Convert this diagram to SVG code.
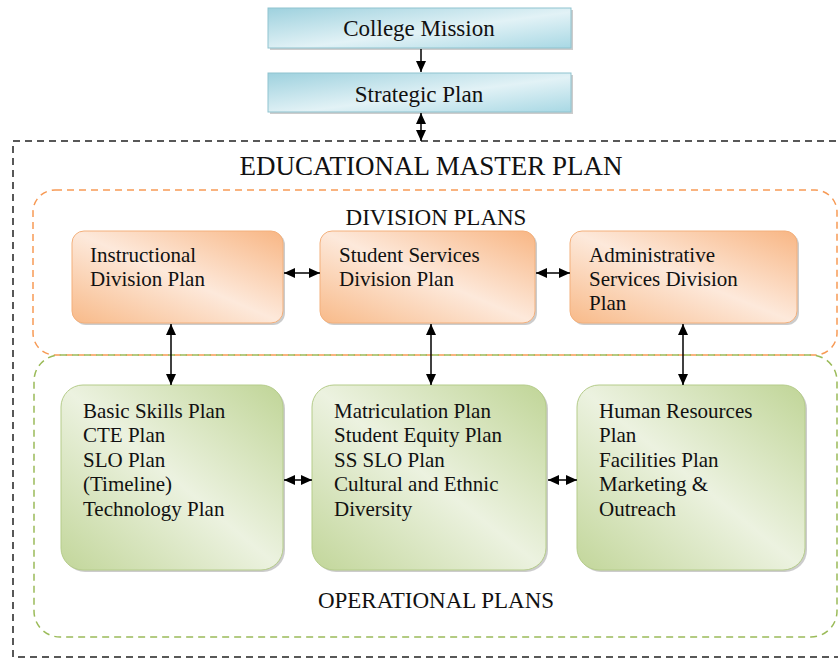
<svg xmlns="http://www.w3.org/2000/svg" width="838" height="659" viewBox="0 0 838 659" font-family="'Liberation Serif', 'Times New Roman', 'DejaVu Serif', serif">
<style>
text{fill:#111;}
.t{font-size:21px;}
.h{font-size:23px;}
.big{font-size:27px;}
.blue{fill:url(#gb);stroke:#8fc3cf;stroke-width:1;}
.org{fill:url(#go);stroke:#f3b07c;stroke-width:1;}
.grn{fill:url(#gg);stroke:#b5cc8a;stroke-width:1;}
.sh{fill:#999;opacity:0.5;}
.conn{stroke:#000;stroke-width:1.5;fill:none;}
</style>
<defs>
<linearGradient id="gb" x1="0" y1="0" x2="1" y2="1">
<stop offset="0" stop-color="#9ed1de"/><stop offset="0.55" stop-color="#e2f2f6"/><stop offset="1" stop-color="#a8d8e4"/>
</linearGradient>
<linearGradient id="go" x1="1" y1="0" x2="0" y2="1">
<stop offset="0" stop-color="#f8b684"/><stop offset="0.5" stop-color="#fde9db"/><stop offset="1" stop-color="#f8ba89"/>
</linearGradient>
<linearGradient id="gg" x1="1" y1="0" x2="0" y2="1">
<stop offset="0" stop-color="#c0d597"/><stop offset="0.5" stop-color="#ecf2e0"/><stop offset="1" stop-color="#c2d69a"/>
</linearGradient>
<marker id="ah" viewBox="0 0 10 10" refX="10" refY="5" markerWidth="11" markerHeight="10" markerUnits="userSpaceOnUse" orient="auto-start-reverse" preserveAspectRatio="none">
<path d="M0,0 L10,5 L0,10 z" fill="#000"/>
</marker>
</defs>
<rect width="838" height="659" fill="#fff"/>

<g id="frames">
<rect x="13" y="141" width="840" height="516" fill="none" stroke="#222" stroke-width="1.5" stroke-dasharray="7,5"/>
<rect x="33" y="190" width="804" height="165" rx="22" fill="none" stroke="#f79a55" stroke-width="1.5" stroke-dasharray="7,5"/>
<rect x="34" y="355" width="803" height="282" rx="26" fill="none" stroke="#9bbb59" stroke-width="1.5" stroke-dasharray="7,5"/>
<text class="big" x="431" y="175" text-anchor="middle">EDUCATIONAL MASTER PLAN</text>
<text class="h" x="436" y="225" text-anchor="middle">DIVISION PLANS</text>
<text class="h" x="436" y="608" text-anchor="middle">OPERATIONAL PLANS</text>
</g>

<g id="college-mission">
<rect class="sh" x="270" y="10" width="303" height="40"/>
<rect class="blue" x="268" y="8" width="303" height="40"/>
<text class="h" x="419" y="36" text-anchor="middle">College Mission</text>
</g>
<g id="strategic-plan">
<rect class="sh" x="270" y="75" width="303" height="39"/>
<rect class="blue" x="268" y="73" width="303" height="39"/>
<text class="h" x="419" y="102" text-anchor="middle">Strategic Plan</text>
</g>

<g id="instructional">
<rect class="sh" x="74" y="233" width="211" height="92" rx="12"/>
<rect class="org" x="72" y="231" width="211" height="92" rx="12"/>
<text class="t" x="90" y="262">Instructional</text>
<text class="t" x="90" y="286">Division Plan</text>
</g>
<g id="student-services">
<rect class="sh" x="322" y="233" width="215" height="92" rx="12"/>
<rect class="org" x="320" y="231" width="215" height="92" rx="12"/>
<text class="t" x="339" y="262">Student Services</text>
<text class="t" x="339" y="286">Division Plan</text>
</g>
<g id="administrative">
<rect class="sh" x="572" y="233" width="227" height="92" rx="12"/>
<rect class="org" x="570" y="231" width="227" height="92" rx="12"/>
<text class="t" x="589" y="262">Administrative</text>
<text class="t" x="589" y="286">Services Division</text>
<text class="t" x="589" y="310">Plan</text>
</g>

<g id="basic-skills">
<rect class="sh" x="63" y="387" width="222" height="185" rx="22"/>
<rect class="grn" x="61" y="385" width="222" height="185" rx="22"/>
<text class="t" x="83" y="418">Basic Skills Plan</text>
<text class="t" x="83" y="442">CTE Plan</text>
<text class="t" x="83" y="467">SLO Plan</text>
<text class="t" x="83" y="491">(Timeline)</text>
<text class="t" x="83" y="516">Technology Plan</text>
</g>
<g id="matriculation">
<rect class="sh" x="314" y="387" width="234" height="185" rx="22"/>
<rect class="grn" x="312" y="385" width="234" height="185" rx="22"/>
<text class="t" x="334" y="418">Matriculation Plan</text>
<text class="t" x="334" y="442">Student Equity Plan</text>
<text class="t" x="334" y="467">SS SLO Plan</text>
<text class="t" x="334" y="491">Cultural and Ethnic</text>
<text class="t" x="334" y="516">Diversity</text>
</g>
<g id="human-resources">
<rect class="sh" x="579" y="387" width="228" height="185" rx="22"/>
<rect class="grn" x="577" y="385" width="228" height="185" rx="22"/>
<text class="t" x="599" y="418">Human Resources</text>
<text class="t" x="599" y="442">Plan</text>
<text class="t" x="599" y="467">Facilities Plan</text>
<text class="t" x="599" y="491">Marketing &amp;</text>
<text class="t" x="599" y="516">Outreach</text>
</g>

<g id="connectors">
<line class="conn" x1="421" y1="49" x2="421" y2="72" marker-end="url(#ah)"/>
<line class="conn" x1="421" y1="113" x2="421" y2="141" marker-start="url(#ah)" marker-end="url(#ah)"/>
<line class="conn" x1="284" y1="273" x2="320" y2="273" marker-start="url(#ah)" marker-end="url(#ah)"/>
<line class="conn" x1="536" y1="273" x2="570" y2="273" marker-start="url(#ah)" marker-end="url(#ah)"/>
<line class="conn" x1="171" y1="324" x2="171" y2="385" marker-start="url(#ah)" marker-end="url(#ah)"/>
<line class="conn" x1="431" y1="324" x2="431" y2="385" marker-start="url(#ah)" marker-end="url(#ah)"/>
<line class="conn" x1="683" y1="324" x2="683" y2="385" marker-start="url(#ah)" marker-end="url(#ah)"/>
<line class="conn" x1="284" y1="480" x2="312" y2="480" marker-start="url(#ah)" marker-end="url(#ah)"/>
<line class="conn" x1="548" y1="480" x2="577" y2="480" marker-start="url(#ah)" marker-end="url(#ah)"/>
</g>
</svg>
